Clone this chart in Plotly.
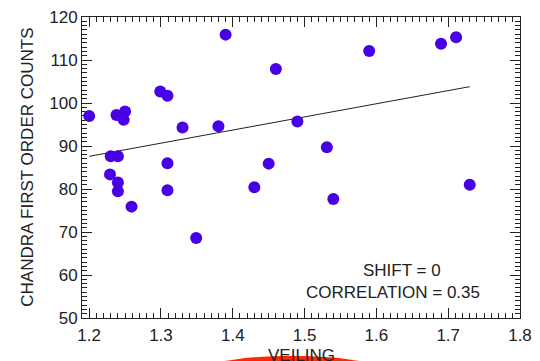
import plotly.graph_objects as go

veiling = [1.200, 1.238, 1.250, 1.248, 1.230, 1.240, 1.229, 1.240, 1.240, 1.259,
           1.299, 1.309, 1.330, 1.309, 1.309, 1.349, 1.380, 1.390, 1.430, 1.450,
           1.460, 1.490, 1.531, 1.540, 1.590, 1.690, 1.711, 1.730]
counts = [97.0, 97.2, 98.0, 96.1, 87.6, 87.6, 83.4, 81.5, 79.5, 75.9,
          102.7, 101.7, 94.3, 86.0, 79.7, 68.6, 94.6, 115.9, 80.4, 85.9,
          107.9, 95.7, 89.7, 77.7, 112.1, 113.8, 115.3, 81.0]
fit_x = [1.20, 1.73]
fit_y = [87.6, 103.8]

x_ticks = [1.2, 1.3, 1.4, 1.5, 1.6, 1.7, 1.8]
y_ticks = [50, 60, 70, 80, 90, 100, 110, 120]

font = dict(family="Liberation Sans, Arial, sans-serif", size=17, color="#222")

fig = go.Figure()
fig.add_trace(go.Scatter(x=fit_x, y=fit_y, mode="lines",
                         line=dict(color="#222", width=1), showlegend=False))
fig.add_trace(go.Scatter(x=veiling, y=counts, mode="markers",
                         marker=dict(color="rgb(72,0,230)", size=12, line=dict(width=0)),
                         showlegend=False))

axis_common = dict(showgrid=False, zeroline=False, showline=True, linecolor="#222",
                   linewidth=1, mirror="allticks", ticks="inside", ticklen=10,
                   tickcolor="#222", tickwidth=1, tickfont=font,
                   ticklabeloverflow="allow")

fig.update_xaxes(range=[1.19, 1.8], tickvals=x_ticks,
                 ticktext=[f"{v:.1f}" for v in x_ticks], ticklabelstandoff=2,
                 minor=dict(dtick=0.01, ticklen=5, ticks="inside", tickcolor="#222", showgrid=False),
                 **axis_common)
fig.update_yaxes(range=[50, 120], tickvals=y_ticks,
                 minor=dict(dtick=1, ticklen=5, ticks="inside", tickcolor="#222", showgrid=False),
                 **axis_common)

fig.update_layout(
    width=540, height=361,
    margin=dict(l=82, r=18, t=8, b=43),
    paper_bgcolor="white", plot_bgcolor="white",
    font=font,
    annotations=[
        dict(text="SHIFT = 0", xref="paper", yref="paper", x=0.7295, y=0.158,
             showarrow=False, font=font, xanchor="center", yanchor="middle"),
        dict(text="CORRELATION = 0.35", xref="paper", yref="paper", x=0.709, y=0.0848,
             showarrow=False, font=font, xanchor="center", yanchor="middle"),
        dict(text="VEILING", xref="paper", yref="paper", x=0.5, y=-0.124,
             showarrow=False, font=font, xanchor="center", yanchor="middle"),
        dict(text="CHANDRA FIRST ORDER COUNTS", xref="paper", yref="paper",
             x=-0.125, y=0.5, textangle=-90, showarrow=False, font=font,
             xanchor="center", yanchor="middle"),
    ],
    shapes=[
        dict(type="circle", xref="paper", yref="paper", x0=0.2523, x1=0.7068,
             y0=-0.1258, y1=-0.2548, fillcolor="#ff2a00", line=dict(width=0), layer="above"),
    ],
)

fig.write_html("out.html")
